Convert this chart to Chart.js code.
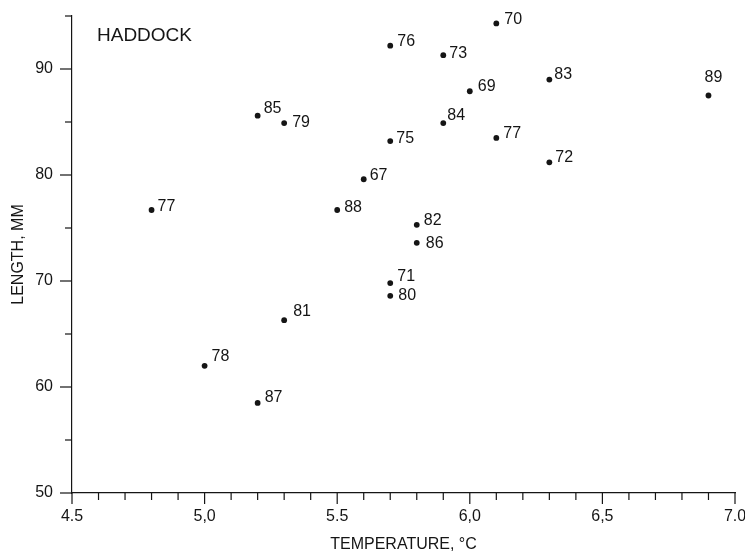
<!DOCTYPE html>
<html>
<head>
<meta charset="utf-8">
<script src="https://cdn.jsdelivr.net/npm/chart.js@4.4.1/dist/chart.umd.min.js"></script>
<style>
  html, body { margin: 0; padding: 0; background: #fff; }
  canvas { display: block; }
</style>
</head>
<body>
<canvas id="haddockChart" width="745" height="553"></canvas>
<script>
// haddock length vs temperature, each point tagged with its year
const temperatures = [6.1, 5.7, 5.9, 6.3, 6.9, 6.0, 5.2, 5.3, 5.9, 5.7, 6.1, 6.3, 5.6, 4.8, 5.5, 5.8, 5.8, 5.7, 5.7, 5.3, 5.0, 5.2];
const lengths = [94.3, 92.2, 91.3, 89.0, 87.5, 87.9, 85.6, 84.9, 84.9, 83.2, 83.5, 81.2, 79.6, 76.7, 76.7, 75.3, 73.6, 69.8, 68.6, 66.3, 62.0, 58.5];
const years = ["70", "76", "73", "83", "89", "69", "85", "79", "84", "75", "77", "72", "67", "77", "88", "82", "86", "71", "80", "81", "78", "87"];

const tempTicks = ["4.5", "5,0", "5.5", "6,0", "6,5", "7.0"];
const lengthTicks = ["50", "60", "70", "80", "90"];

const FONT = "'Liberation Sans', Arial, sans-serif";
const INK = "#151515";

// how far each year label sits from its dot (text left edge, text middle)
const labelNudge = [
  [8, -4], [7, -4], [6, -2], [5, -5], [-4, -18], [8, -5], [6, -7], [8, 0], [4, -7], [6, -2], [7, -4],
  [6, -5], [6, -4], [6, -3], [7, -2], [7, -4], [9, 1], [7, -7], [8, 0], [9, -9], [7, -9], [7, -5]
];

const points = temperatures.map((t, i) => ({ x: t, y: lengths[i] }));

const yearLabels = {
  id: "yearLabels",
  afterDatasetsDraw(chart) {
    const ctx = chart.ctx;
    const meta = chart.getDatasetMeta(0);
    ctx.save();
    ctx.fillStyle = INK;
    ctx.font = "16px " + FONT;
    ctx.textAlign = "left";
    ctx.textBaseline = "middle";
    meta.data.forEach((pt, i) => {
      const n = labelNudge[i] || [7, -4];
      ctx.fillText(years[i], pt.x + n[0], pt.y + n[1]);
    });
    ctx.restore();
  }
};

// tick marks: long at labelled values, short in between
const tickMarks = {
  id: "tickMarks",
  afterDraw(chart) {
    const ctx = chart.ctx;
    const area = chart.chartArea;
    const xs = chart.scales.x;
    const ys = chart.scales.y;
    ctx.save();
    ctx.strokeStyle = INK;
    ctx.lineWidth = 1.2;
    xs.ticks.forEach(t => {
      const px = xs.getPixelForValue(t.value);
      const len = Math.round(t.value * 10) % 5 === 0 ? 11 : 7;
      ctx.beginPath();
      ctx.moveTo(px, area.bottom);
      ctx.lineTo(px, area.bottom + len);
      ctx.stroke();
    });
    ys.ticks.forEach(t => {
      const py = ys.getPixelForValue(t.value);
      const len = Math.round(t.value) % 10 === 0 ? 12 : 7;
      ctx.beginPath();
      ctx.moveTo(area.left, py);
      ctx.lineTo(area.left - len, py);
      ctx.stroke();
    });

    ctx.fillStyle = INK;
    ctx.font = "19px " + FONT;
    ctx.textBaseline = "middle";
    ctx.fillText("HADDOCK", area.left + 25, 36);
    ctx.restore();
  }
};

const ctx = document.getElementById("haddockChart").getContext("2d");

new Chart(ctx, {
  type: "scatter",
  data: {
    datasets: [{
      data: points,
      backgroundColor: INK,
      borderColor: INK,
      pointRadius: 2.9,
      borderWidth: 0
    }]
  },
  options: {
    responsive: false,
    animation: false,
    layout: { padding: { top: 16, right: 10, left: 0, bottom: 0 } },
    plugins: { legend: { display: false }, tooltip: { enabled: false } },
    scales: {
      x: {
        type: "linear",
        min: 4.5,
        max: 7.0,
        grid: { display: false, drawTicks: false },
        border: { display: true, color: INK, width: 1.2 },
        ticks: {
          stepSize: 0.1,
          autoSkip: false,
          maxRotation: 0,
          padding: 14,
          color: INK,
          font: { family: FONT, size: 16 },
          callback(value) {
            const tenths = Math.round(value * 10);
            if (tenths % 5 !== 0) return "";
            return tempTicks[(tenths - 45) / 5];
          }
        },
        title: {
          display: true,
          text: "TEMPERATURE, °C",
          color: INK,
          font: { family: FONT, size: 16, lineHeight: 1 },
          padding: 0
        },
        afterFit(scale) {
          scale.height = 60;
          scale.paddingLeft = 0;
          scale.paddingRight = 0;
        }
      },
      y: {
        type: "linear",
        min: 50,
        max: 95,
        grid: { display: false, drawTicks: false },
        border: { display: true, color: INK, width: 1.2 },
        ticks: {
          stepSize: 5,
          padding: 19,
          color: INK,
          font: { family: FONT, size: 16 },
          callback(value) {
            if (Math.round(value) % 10 !== 0) return "";
            return lengthTicks[(Math.round(value) - 50) / 10];
          }
        },
        title: {
          display: true,
          text: "LENGTH, MM",
          color: INK,
          font: { family: FONT, size: 16, lineHeight: 1 },
          padding: { top: 11, bottom: 0 }
        },
        afterFit(scale) {
          scale.width = 72;
          scale.paddingTop = 0;
          scale.paddingBottom = 0;
        }
      }
    }
  },
  plugins: [yearLabels, tickMarks]
});
</script>
</body>
</html>
